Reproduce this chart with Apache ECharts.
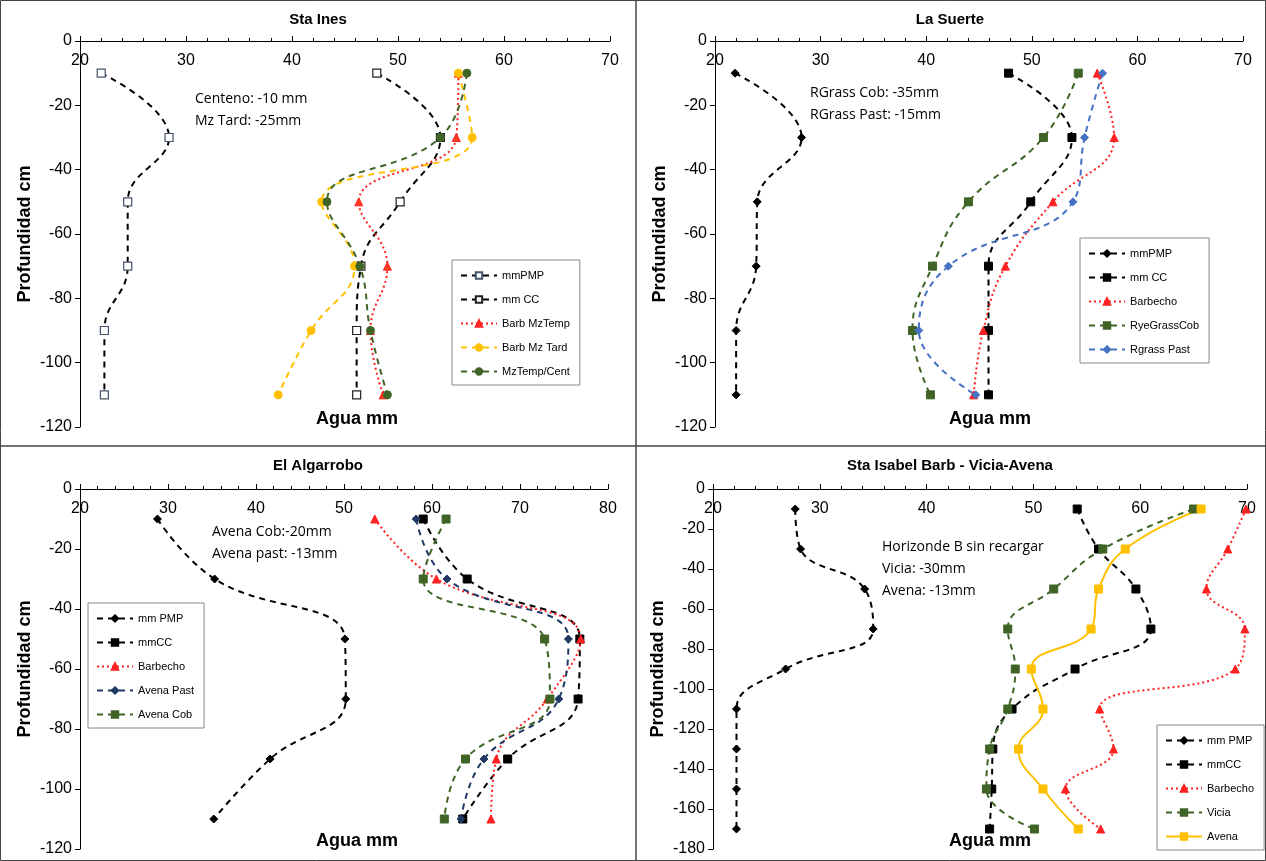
<!DOCTYPE html>
<html><head><meta charset="utf-8">
<script src="https://cdn.jsdelivr.net/npm/echarts@6/dist/echarts.min.js"></script>
<style>html,body{margin:0;background:#fff}#main{width:1266px;height:861px}</style>
</head><body><div id="main"></div>
<script>
// profundidades
var depth6=[-10,-30,-50,-70,-90,-110];
var depth9=[-10,-30,-50,-70,-90,-110,-130,-150,-170];

// Sta Ines
var ines_pmp=[22.0,28.4,24.5,24.5,22.3,22.3];
var ines_cc=[48.0,54.0,50.2,46.5,46.1,46.1];
var ines_barbTemp=[55.7,55.5,46.3,49.0,47.4,48.6];
var ines_barbTard=[55.7,57.0,42.8,45.9,41.8,38.7];
var ines_cent=[56.5,54.0,43.3,46.4,47.4,49.0];

// La Suerte
var sue_pmp=[21.9,28.2,24.0,23.9,22.0,22.0];
var sue_cc=[47.8,53.8,49.9,45.9,45.9,45.9];
var sue_barb=[56.2,57.8,52.0,47.5,45.4,44.5];
var sue_rye=[54.4,51.1,44.0,40.6,38.7,40.4];
var sue_past=[56.7,55.0,53.9,42.1,39.3,44.7];

// El Algarrobo
var alg_pmp=[28.8,35.3,50.1,50.2,41.6,35.2];
var alg_cc=[59.0,64.0,76.8,76.6,68.6,63.5];
var alg_barb=[53.5,60.5,76.9,73.1,67.3,66.7];
var alg_past=[58.2,61.7,75.5,74.4,65.9,63.3];
var alg_cob=[61.6,59.0,72.8,73.4,63.8,61.4];

// Sta Isabel
var isa_pmp=[27.7,28.2,34.2,35.0,26.8,22.2,22.2,22.2,22.2];
var isa_cc=[54.1,56.1,59.6,61.0,53.9,48.0,46.2,46.1,45.9];
var isa_barb=[69.9,68.2,66.2,69.8,68.9,56.2,57.5,53.0,56.3];
var isa_vicia=[65.0,56.5,51.9,47.6,48.3,47.6,45.9,45.6,50.1];
var isa_avena=[65.7,58.6,56.1,55.4,49.8,50.9,48.6,50.9,54.2];

function pts(xs,ys){return xs.map(function(v,i){return [v,ys[i]];});}

var grids=[
  {left:80,top:41,width:530,height:386},
  {left:715,top:41,width:528,height:386},
  {left:80,top:489,width:528,height:360},
  {left:713,top:489,width:534,height:360}
];
var xr=[[20,70],[20,70],[20,80],[20,70]];
var yr=[-120,-120,-120,-180];
var lab={fontFamily:'Arial',fontSize:16,color:'#000'};

var xAxis=[],yAxis=[];
for(var i=0;i<4;i++){
  xAxis.push({gridIndex:i,type:'value',position:'top',min:xr[i][0],max:xr[i][1],interval:10,
    axisLine:{onZero:false,lineStyle:{color:'#000'}},axisTick:{show:true,length:5,inside:false},
    minorTick:{show:true,splitNumber:5,length:3,lineStyle:{color:'#000'}},
    axisLabel:Object.assign({inside:true,margin:12},lab),splitLine:{show:false}});
  yAxis.push({gridIndex:i,type:'value',min:yr[i],max:0,interval:20,
    axisLine:{show:true,lineStyle:{color:'#000'}},axisTick:{show:true,length:5},
    axisLabel:Object.assign({margin:8},lab),splitLine:{show:false},
    name:'Profundidad cm',nameLocation:'middle',nameGap:46,nameRotate:90,
    nameTextStyle:{fontFamily:'Arial',fontSize:18,fontWeight:'bold',color:'#000'}});
}

function s(name,g,xs,ys,color,sym,opt){
  opt=opt||{};
  return {name:name,type:'line',xAxisIndex:g,yAxisIndex:g,data:pts(xs,ys),smooth:0.45,
    symbol:sym,symbolSize:opt.size||8,
    itemStyle:{color:opt.fill||color,borderColor:opt.border||color,borderWidth:opt.bw||1},
    lineStyle:{color:color,width:2,type:opt.type||[6,5]}};
}
var red='#ff2020',yel='#ffc000',grn='#3f6426',blu='#4472c4',blk='#000';
var tri='triangle';
var series=[
  s('mmPMP',0,ines_pmp,depth6,blk,'rect',{fill:'#fff',border:'#44546a',bw:1.2}),
  s('mm CC',0,ines_cc,depth6,blk,'rect',{fill:'#fff',border:'#222',bw:1.2}),
  s('Barb MzTemp',0,ines_barbTemp,depth6,red,tri,{type:[2,3],fill:'#ff3b1f'}),
  s('Barb Mz Tard',0,ines_barbTard,depth6,yel,'circle'),
  s('MzTemp/Cent',0,ines_cent,depth6,grn,'circle'),

  s('mmPMP ',1,sue_pmp,depth6,blk,'diamond'),
  s('mm CC ',1,sue_cc,depth6,blk,'rect'),
  s('Barbecho',1,sue_barb,depth6,red,tri,{type:[2,3]}),
  s('RyeGrassCob',1,sue_rye,depth6,grn,'rect'),
  s('Rgrass Past',1,sue_past,depth6,blu,'diamond'),

  s('mm PMP',2,alg_pmp,depth6,blk,'diamond'),
  s('mmCC',2,alg_cc,depth6,blk,'rect'),
  s('Barbecho',2,alg_barb,depth6,red,tri,{type:[2,3]}),
  s('Avena Past',2,alg_past,depth6,'#203864','diamond'),
  s('Avena Cob',2,alg_cob,depth6,grn,'rect'),

  s('mm PMP',3,isa_pmp,depth9,blk,'diamond'),
  s('mmCC',3,isa_cc,depth9,blk,'rect'),
  s('Barbecho',3,isa_barb,depth9,red,tri,{type:[2,3]}),
  s('Vicia',3,isa_vicia,depth9,grn,'rect'),
  s('Avena',3,isa_avena,depth9,yel,'rect',{type:'solid'})
];

function legend(names,box){
  return Object.assign({orient:'vertical',data:names,itemWidth:36,itemHeight:8,itemGap:13,
    borderColor:'#888',borderWidth:1,padding:[10,10,8,8],backgroundColor:'#fff',
    textStyle:{fontFamily:'Arial',fontSize:11,color:'#000'}},box);
}
var legends=[
  legend(['mmPMP','mm CC','Barb MzTemp','Barb Mz Tard','MzTemp/Cent'],{left:452,top:260}),
  legend(['mmPMP ','mm CC ','Barbecho','RyeGrassCob','Rgrass Past'],{left:1080,top:238}),
  legend(['mm PMP','mmCC','Barbecho','Avena Past','Avena Cob'],{left:88,top:603}),
  legend(['mm PMP','mmCC','Barbecho','Vicia','Avena'],{left:1157,top:725})
];

function txt(x,y,t,o){return {type:'text',x:x,y:y,style:Object.assign({text:t,fontFamily:'Arial',fontSize:14,fill:'#000'},o||{})};}
var bold={fontSize:15,fontWeight:'bold',align:'center'};
var agua={fontSize:18,fontWeight:'bold',align:'center'};
var note={fontFamily:'Open Sans',fontSize:14,lineHeight:22};
var graphic=[
  {type:'rect',shape:{x:0.5,y:0.5,width:1265,height:860},style:{fill:'none',stroke:'#444',lineWidth:1}},
  {type:'line',shape:{x1:636,y1:0,x2:636,y2:861},style:{stroke:'#444',lineWidth:1.5}},
  {type:'line',shape:{x1:0,y1:446,x2:1266,y2:446},style:{stroke:'#444',lineWidth:1.5}},
  txt(318,12,'Sta Ines',bold), txt(950,12,'La Suerte',bold),
  txt(318,458,'El Algarrobo',bold), txt(950,458,'Sta Isabel Barb - Vicia-Avena',bold),
  txt(357,410,'Agua mm',agua), txt(990,410,'Agua mm',agua),
  txt(357,832,'Agua mm',agua), txt(990,832,'Agua mm',agua),
  txt(195,88,'Centeno: -10 mm\nMz Tard: -25mm',note),
  txt(810,82,'RGrass Cob: -35mm\nRGrass Past: -15mm',note),
  txt(212,521,'Avena Cob:-20mm\nAvena past: -13mm',note),
  txt(882,536,'Horizonde B sin recargar\nVicia: -30mm\nAvena: -13mm',note)
];

var myChart=echarts.init(document.getElementById('main'));
myChart.setOption({animation:false,grid:grids,xAxis:xAxis,yAxis:yAxis,series:series,legend:legends,graphic:graphic});
</script></body></html>
